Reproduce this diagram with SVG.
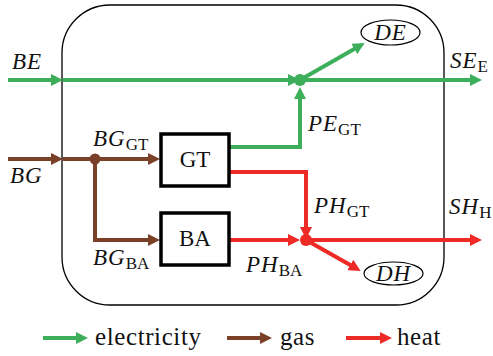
<svg xmlns="http://www.w3.org/2000/svg" width="493" height="356" viewBox="0 0 493 356">
<defs>
<marker id="ag" markerUnits="userSpaceOnUse" markerWidth="13" markerHeight="12" refX="2" refY="6" orient="auto"><path d="M0,0 L12,6 L0,12 z" fill="#3DAF5B"/></marker>
<marker id="ab" markerUnits="userSpaceOnUse" markerWidth="13" markerHeight="12" refX="2" refY="6" orient="auto"><path d="M0,0 L12,6 L0,12 z" fill="#7A4128"/></marker>
<marker id="ar" markerUnits="userSpaceOnUse" markerWidth="13" markerHeight="12" refX="2" refY="6" orient="auto"><path d="M0,0 L12,6 L0,12 z" fill="#EE2A26"/></marker>
</defs>
<style>
.g{stroke:#3DAF5B;stroke-width:4;fill:none}
.b{stroke:#7A4128;stroke-width:4;fill:none}
.r{stroke:#EE2A26;stroke-width:4;fill:none}
.ga{marker-end:url(#ag)}
.ba{marker-end:url(#ab)}
.ra{marker-end:url(#ar)}
text{font-family:"Liberation Serif","DejaVu Serif",serif;fill:#111}
.it{font-style:italic;font-size:23px;letter-spacing:1px}
.sub{font-style:normal;font-size:17px;letter-spacing:0}
.box{fill:#fff;stroke:#000;stroke-width:3.5}
.ell{fill:#fff;stroke:#000;stroke-width:1.2}
.up{font-size:23px}
.lg{font-size:25px;letter-spacing:0.6px}
</style>
<rect id="boundary" x="62" y="5" width="382" height="300" rx="48" ry="48" fill="none" stroke="#000" stroke-width="1.3"/>
<g id="connectors">
<path class="g ga" d="M8,80 H53"/>
<path class="g ga" d="M63,80 H290"/>
<path class="g ga" d="M300,80 H472"/>
<path class="g ga" d="M300,80 L356,48"/>
<path class="g ga" d="M229,147 H300 V97"/>
<path class="b ba" d="M8,159 H53"/>
<path class="b ba" d="M63,159 H150"/>
<path class="b ba" d="M95,159 V240 H150"/>
<path class="r ra" d="M229,172 H306 V229"/>
<path class="r ra" d="M229,240 H290"/>
<path class="r ra" d="M306,240 H472"/>
<path class="r ra" d="M306,240 L352,266"/>
<circle cx="300" cy="80" r="6" fill="#3DAF5B"/>
<circle cx="95" cy="159" r="5.5" fill="#7A4128"/>
<circle cx="306" cy="240" r="6" fill="#EE2A26"/>
</g>
<g id="GT"><rect class="box" x="161" y="134" width="68" height="52"/><text class="up" x="195" y="167" text-anchor="middle">GT</text></g>
<g id="BA"><rect class="box" x="161" y="213" width="68" height="52"/><text class="up" x="195" y="246" text-anchor="middle">BA</text></g>
<g id="DE"><ellipse class="ell" cx="390.5" cy="32.5" rx="29.5" ry="12.5"/><text class="it" x="390.5" y="40" text-anchor="middle">DE</text></g>
<g id="DH"><ellipse class="ell" cx="393.5" cy="273.5" rx="29.5" ry="11.5"/><text class="it" x="393.5" y="281" text-anchor="middle">DH</text></g>
<g id="labels">
<text class="it" x="12" y="69">BE</text>
<text class="it" x="10" y="183">BG</text>
<text class="it" x="93" y="146">BG<tspan class="sub" dy="4">GT</tspan></text>
<text class="it" x="93" y="265">BG<tspan class="sub" dy="4">BA</tspan></text>
<text class="it" x="308" y="131">PE<tspan class="sub" dy="4">GT</tspan></text>
<text class="it" x="314" y="213">PH<tspan class="sub" dy="4">GT</tspan></text>
<text class="it" x="246" y="272">PH<tspan class="sub" dy="4">BA</tspan></text>
<text class="it" x="450" y="68">SE<tspan class="sub" dy="4">E</tspan></text>
<text class="it" x="449" y="214">SH<tspan class="sub" dy="4">H</tspan></text>
</g>
<g id="legend">
<path class="g ga" d="M43,338 H78"/>
<text class="lg" x="95" y="345">electricity</text>
<path class="b ba" d="M227,338 H262"/>
<text class="lg" x="280" y="345">gas</text>
<path class="r ra" d="M346,338 H382"/>
<text class="lg" x="397" y="345">heat</text>
</g>
</svg>
